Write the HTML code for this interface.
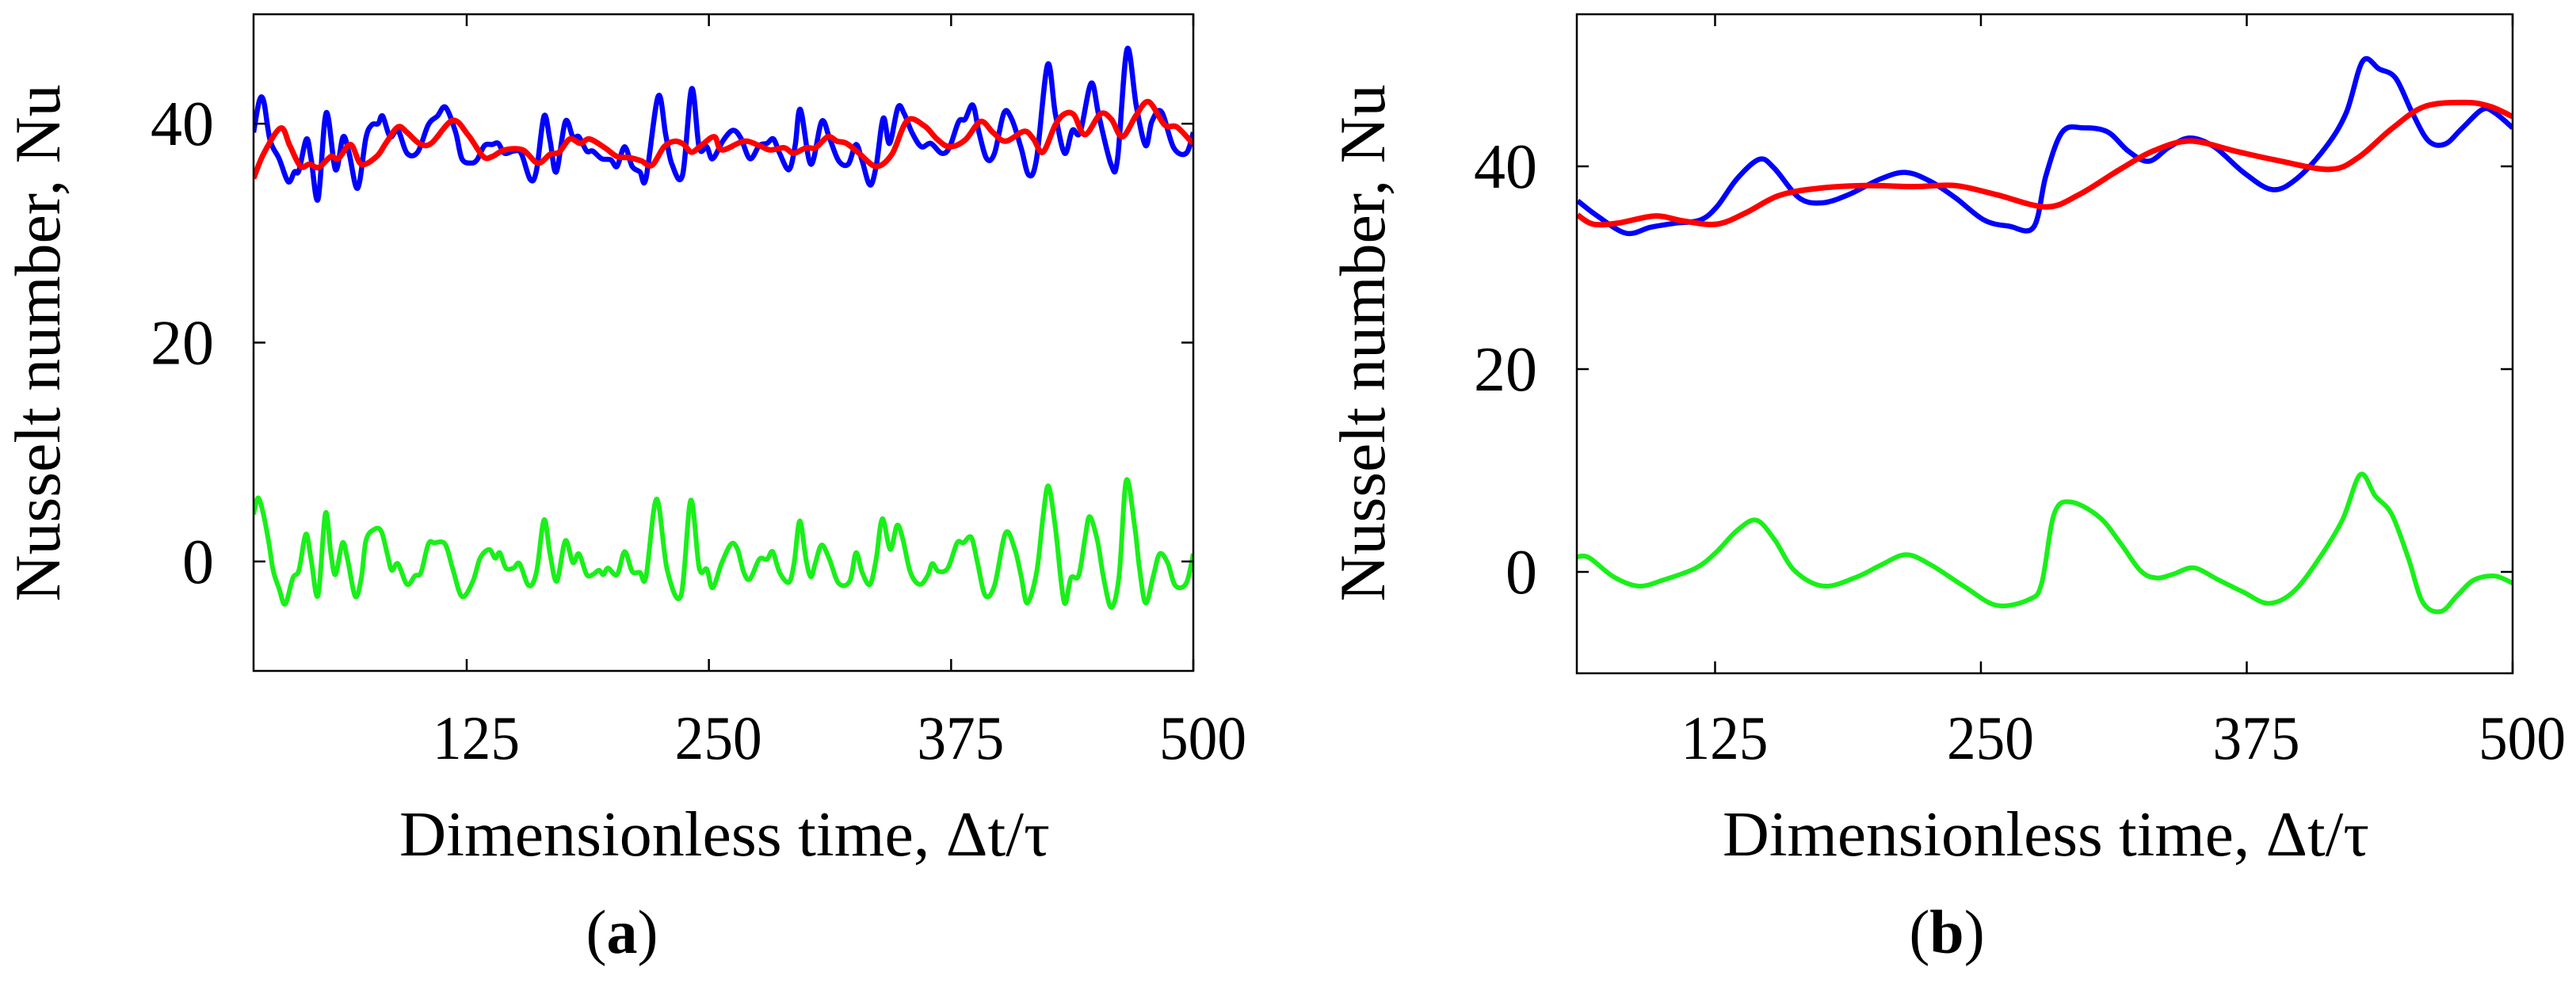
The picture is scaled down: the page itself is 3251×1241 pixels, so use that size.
<!DOCTYPE html>
<html><head><meta charset="utf-8">
<style>
html,body{margin:0;padding:0;background:#fff;}
svg{display:block;}
svg text{font-family:"Liberation Serif","Times New Roman",serif;fill:#000;}
</style></head>
<body>
<svg id="fig" xmlns="http://www.w3.org/2000/svg" width="3251" height="1241" viewBox="0 0 3251 1241" font-family="Liberation Serif, serif"></svg>
<script>
// ---------- Panel (a) data ----------
const aBlueT=[15,18,20.3,23.5,28.2,32.9,36.1,38.4,42.3,44.7,48.3,52.5,57.3,61.2,64.3,68.7,73,76.1,79.3,81.6,85.5,89.5,94.2,99.7,105.2,109.9,114.1,119.3,122.5,127.2,130.3,134.2,138.2,141.3,144.5,149.2,153.1,157.8,161,164.9,168,171.2,175.9,179.8,182.9,186.9,190,194.7,199.4,202.6,206.5,210.4,214.4,217.5,223.8,227.7,230.9,236.4,241.1,245,248.9,251.9,257.5,262.4,266.4,271.2,276,280,283.3,286.5,291.3,294.5,297.2,302.6,308.2,312.2,317,321.9,325.9,329.1,333.1,336.3,340,343.2,347.6,350.8,354.8,359.6,364.5,370.1,374.1,378.9,382.2,386.2,389.4,393.4,397.4,402.3,406.3,411.1,415.1,419.1,424.8,428.8,433.6,437.6,441.6,447.3,451.3,457.7,460.9,465.8,470.6,475.4,478.6,483.5,489.9,496.3,500];
const aBlueV=[39.2,42.1,42,38.5,36.8,34.7,35.6,35.7,38.6,36.8,33.1,41,35.8,38.8,37.3,34.1,38.7,39.9,40,40.7,38.8,39.4,37.3,37.4,39.9,40.7,41.5,39.2,36.8,36.4,36.7,38,38.1,38.2,37.3,37.5,37.3,34.9,35.7,40.7,38.5,35.6,40.2,38.8,38.8,37.5,37.5,36.8,36.7,36.1,37.9,36.1,35.6,35,42.5,39,36.3,35.3,43.2,37.8,37.9,36.8,38.5,39.4,38.7,36.8,38,38.2,38.6,37.3,35.8,38,41.3,36.3,40.2,38.7,36.6,36.3,38.1,36.6,34.4,36.1,40.5,38.2,41.5,40.9,39.2,37.9,38.2,37.3,37.8,40.2,40.4,41.7,39.2,36.8,37.3,41,40.4,37.8,35.3,36.8,45.4,40.9,37.3,39.4,39.2,43.7,40.7,36.2,36.8,46.8,41.6,38,40.2,41.1,37.8,37.3,39.2];
const aRedT=[15,20.3,29,33.7,39.2,43.9,48.6,54.9,58.8,65.1,70.6,78.5,83.2,89.5,94.2,100.5,106.7,117.7,125.6,133.5,138.2,144.5,153.9,161.7,168,172.7,178.2,183.7,188.4,196.3,202.6,208.9,215.1,220.6,226.9,232.4,237.1,241.1,246.6,252.9,256.7,268,276,281.6,288.9,293.7,300.1,305,311.4,316.2,321,327.5,336.3,344.4,352.4,361.2,367.7,374.1,382.2,390.2,396.6,403.1,412.7,417.5,422.4,428.8,433.6,438.4,444.1,452.1,457.7,463.4,470.6,477,485.1,491.5,498.7,500];
const aRedV=[35,37.3,39.6,38,36.1,36.3,36,37,36.8,38.1,36.3,37,38.2,39.7,39.2,38.2,38.2,40.3,39,37,37,37.6,37.6,36.4,37.2,37.4,38.6,38.2,38.6,37.8,37,36.9,36.6,36.2,37.9,38.4,38.1,37.4,38.1,38.8,37.6,38.4,38,37.6,37.8,37.3,37.8,37.8,38.8,38.4,38.2,37.3,36.1,37.2,40.3,39.8,38.6,37.9,38.5,40.2,39.2,38.4,39.3,38.6,37.4,39.9,40.9,40.8,39,40.9,40.4,38.8,40.8,42,39.9,39.7,38.4,38.3];
const aGreenT=[15,17.2,19.6,22.7,25.1,28.2,31.3,35.3,38.4,42,44.7,48.3,52.1,54.9,57.3,60.9,63.5,67.5,70.6,73,76.9,80.8,84,86.3,89.5,94.2,98.3,101.4,105.2,108.3,113.8,117.7,122.5,128,131.9,136.6,139.7,142.1,145.2,149.2,152.3,157,161,164.9,168,171.5,175.9,179.8,182.9,186.9,190,193.2,195.5,197.9,202.6,206.5,210.4,214.4,217.5,223,228.5,235.6,240.6,245,248.9,251.9,256.7,261.5,264.8,268,271.2,276,280,282.9,286.5,291.3,294,296.9,300.1,302.6,305,308.2,312.2,317,322.7,325.9,329.1,333.1,336.3,339.5,343.6,347.1,350,354,358.8,362.9,365.3,368.5,373.3,378.1,381.3,385.4,388.6,392.6,397.4,403.1,407.9,411.1,414.3,419.1,422.4,425.2,428.8,433.3,436.8,440.8,444.1,446.5,450.5,453.7,457.7,461.7,465.4,469.8,472.2,475.4,479.4,482.6,486.7,490.7,496.3,500];
const aGreenV=[4.3,5.8,4.7,1.9,-0.8,-2.5,-3.9,-1.5,-0.8,2.5,0.2,-3.1,4.4,0.7,-1.2,1.7,0.2,-3.2,-1.5,1.9,2.9,2.8,0.7,-0.8,-0.2,-2.1,-1.3,-1,1.6,1.7,1.6,-0.6,-3.2,-1.9,0.3,1.1,0.3,0.8,-0.6,-0.6,-0.2,-2.2,-1,3.8,0.7,-1.8,1.9,-0.1,0.7,-1.2,-1.2,-0.8,-1.2,-0.6,-1.2,0.9,-0.9,-1,-1.4,5.7,-0.8,-3.1,5.6,-0.6,-0.7,-2.4,-0.1,1.6,1.1,-1,-1.6,0.2,0.2,0.9,-1,-1.9,-0.1,3.7,0.2,-1.4,-0.1,1.5,0.2,-2,-1.8,0.8,-1,-2.1,0.2,3.9,1.1,3.3,2.1,-1,-2.1,-1.3,-0.2,-0.9,-0.6,1.7,1.7,2.2,-0.1,-3.1,-2.2,2.6,1.1,-1.3,-3.8,-1,4,6.9,3.1,-3.7,-1.5,-1.3,2.1,4.1,1.9,-1.5,-4.2,-1.3,7.4,3.1,-0.6,-3.8,-1.3,0.7,-0.1,-2.2,-2,0.7];

// ---------- Panel (b) data ----------
const bBlueT=[60.4,69.7,83.2,94.8,106.4,118,125.8,135.4,145.9,152.9,164.5,175.3,187.7,203.2,214.8,226.4,238,251.5,263.2,274.8,280.6,288.3,298,309.6,319.3,328.9,338.6,348.3,359.9,373.5,387,398.6,412.2,421.8,429.6,437.3,445,452.8,460.5,468.3,476,485.7,491.5,500];
const bBlueV=[36.6,35.1,33.4,34,34.4,34.7,36,38.8,40.7,39.8,36.9,36.4,37.2,38.8,39.4,38.5,36.9,34.7,34.1,34,39.1,43.4,43.8,43.4,41.5,40.5,41.9,42.8,41.9,39.4,37.7,38.8,41.9,45.3,50.4,49.6,48.7,45.3,42.5,42.2,43.7,45.6,45.3,43.8];
const bRedT=[60.4,67.7,79.3,96.7,110.3,125.8,139.3,154.8,172.2,195.4,218.7,238,257.4,280.6,296.1,315.4,330.9,348.3,369.6,389,414.1,427.6,443.1,458.6,477.9,489.5,500];
const bRedV=[35.2,34.3,34.4,35.1,34.6,34.3,35.4,37.1,37.8,38.1,38,38.1,37.2,36,37.2,39.7,41.5,42.5,41.5,40.6,39.7,40.9,43.7,45.9,46.3,45.9,44.9];
const bGreenT=[60.4,65.8,77.4,89,100.6,116.1,125.8,135.4,144.4,152.9,162.5,176.1,191.6,203.2,214.8,226.4,241.9,257.4,272.8,278.6,284.4,292.2,305.7,315.4,325.1,332.8,340.6,350.2,361.8,373.5,385.1,396.7,408.3,419.9,428.4,435.4,443.1,450.9,457.8,466.3,474.1,481.8,491.5,500];
const bGreenV=[1.5,1.4,-0.5,-1.4,-0.8,0.4,2,4.1,5.1,3.2,0.1,-1.4,-0.5,0.7,1.7,0.7,-1.4,-3.3,-2.7,-1.1,5.7,6.9,5.4,2.9,0.1,-0.6,-0.2,0.4,-0.8,-2,-3.1,-2,1.1,5.1,9.6,7.5,5.7,1.4,-3,-3.9,-2.3,-0.8,-0.4,-1.1];

const xTicks=[125,250,375,500];
const xTickLabels=["125","250","375","500"];
const yTicks=[0,20,40];
const yTickLabels=["0","20","40"];

const NS="http://www.w3.org/2000/svg";
const FONT='"Liberation Serif", serif';
const fig=document.getElementById('fig');
function mk(tag,attrs,parent){const e=document.createElementNS(NS,tag);for(const k in attrs)e.setAttribute(k,attrs[k]);if(tag==='text')e.setAttribute('font-family',FONT);(parent||fig).appendChild(e);return e;}

function smoothPath(pts){
  let d="M"+pts[0][0].toFixed(1)+","+pts[0][1].toFixed(1);
  for(let i=0;i<pts.length-1;i++){
    const p0=pts[Math.max(0,i-1)],p1=pts[i],p2=pts[i+1],p3=pts[Math.min(pts.length-1,i+2)];
    const c1x=p1[0]+(p2[0]-p0[0])/6,c1y=p1[1]+(p2[1]-p0[1])/6;
    const c2x=p2[0]-(p3[0]-p1[0])/6,c2y=p2[1]-(p3[1]-p1[1])/6;
    d+=" C"+c1x.toFixed(1)+","+c1y.toFixed(1)+" "+c2x.toFixed(1)+","+c2y.toFixed(1)+" "+p2[0].toFixed(1)+","+p2[1].toFixed(1);
  }
  return d;
}

function panel(cfg){
  const g=mk('g',{});
  
  
  const X=t=>cfg.L+(t-cfg.x0)/(cfg.x1-cfg.x0)*(cfg.R-cfg.L);
  const Y=v=>cfg.B-(v-cfg.y0)/(cfg.y1-cfg.y0)*(cfg.B-cfg.T);
  const clipId='clip'+cfg.id;
  const defs=mk('defs',{},g);
  mk('rect',{x:cfg.L,y:cfg.T,width:cfg.R-cfg.L,height:cfg.B-cfg.T},mk('clipPath',{id:clipId},defs));
  const order=[['green',cfg.gT,cfg.gV,'#19f019',6],['blue',cfg.bT,cfg.bV,'#0000ff',6.5],['red',cfg.rT,cfg.rV,'#ff0000',7]];
  order.forEach(s=>{
    const pts=s[1].map((t,i)=>[X(t),Y(s[2][i])]);
    const p=mk('path',{d:smoothPath(pts),fill:'none',stroke:s[3],'stroke-width':s[4],'stroke-linejoin':'round','clip-path':'url(#'+clipId+')'},g);
    
    
  });
  const fr=mk('rect',{x:cfg.L,y:cfg.T,width:cfg.R-cfg.L,height:cfg.B-cfg.T,fill:'none',stroke:'#000','stroke-width':2.5},g);
  
  
  xTicks.forEach((t,i)=>{
    const x=X(t);
    mk('line',{x1:x,y1:cfg.B,x2:x,y2:cfg.B-15,stroke:'#000','stroke-width':2.5},g);
    mk('line',{x1:x,y1:cfg.T,x2:x,y2:cfg.T+15,stroke:'#000','stroke-width':2.5},g);
    const tx=mk('text',{x:x+12,y:958,'font-size':78,'text-anchor':'middle',textLength:110,lengthAdjust:'spacingAndGlyphs'},g);
    tx.textContent=xTickLabels[i];
    
    
  });
  yTicks.forEach((v,i)=>{
    const y=Y(v);
    mk('line',{x1:cfg.L,y1:y,x2:cfg.L+15,y2:y,stroke:'#000','stroke-width':2.5},g);
    mk('line',{x1:cfg.R,y1:y,x2:cfg.R-15,y2:y,stroke:'#000','stroke-width':2.5},g);
    const tx=mk('text',{x:cfg.L-50,y:y+27,'font-size':80,'text-anchor':'end'},g);
    tx.textContent=yTickLabels[i];
    
    
  });
  const yt=mk('text',{x:0,y:0,'font-size':82,'text-anchor':'middle',textLength:653,lengthAdjust:'spacingAndGlyphs',transform:'translate('+(cfg.ytx+28)+',433) rotate(-90)'},g);
  yt.textContent='Nusselt number, Nu';
  
  
  const xt=mk('text',{x:cfg.xtx,y:1080,'font-size':80,textLength:cfg.xtw,lengthAdjust:'spacingAndGlyphs'},g);
  xt.textContent='Dimensionless time, \u0394t/\u03c4';
  
  
  const lb=mk('text',{x:cfg.lbx,y:1203,'font-size':78,'text-anchor':'middle'},g);
  lb.innerHTML='(<tspan font-weight="bold">'+cfg.letter+'</tspan>)';
  
  
}

panel({id:'a',name:'panel-a-chart',letter:'a',L:320,R:1506,T:18,B:847,x0:15,x1:500,y0:-10,y1:50,
  bT:aBlueT,bV:aBlueV,rT:aRedT,rV:aRedV,gT:aGreenT,gV:aGreenV,ytx:47,xtx:504,xtw:821,lbx:785});
panel({id:'b',name:'panel-b-chart',letter:'b',L:1990,R:3171,T:18,B:850,x0:60,x1:500,y0:-10,y1:55,
  bT:bBlueT,bV:bBlueV,rT:bRedT,rV:bRedV,gT:bGreenT,gV:bGreenV,ytx:1719,xtx:2174,xtw:816,lbx:2457});
</script>
</body></html>
